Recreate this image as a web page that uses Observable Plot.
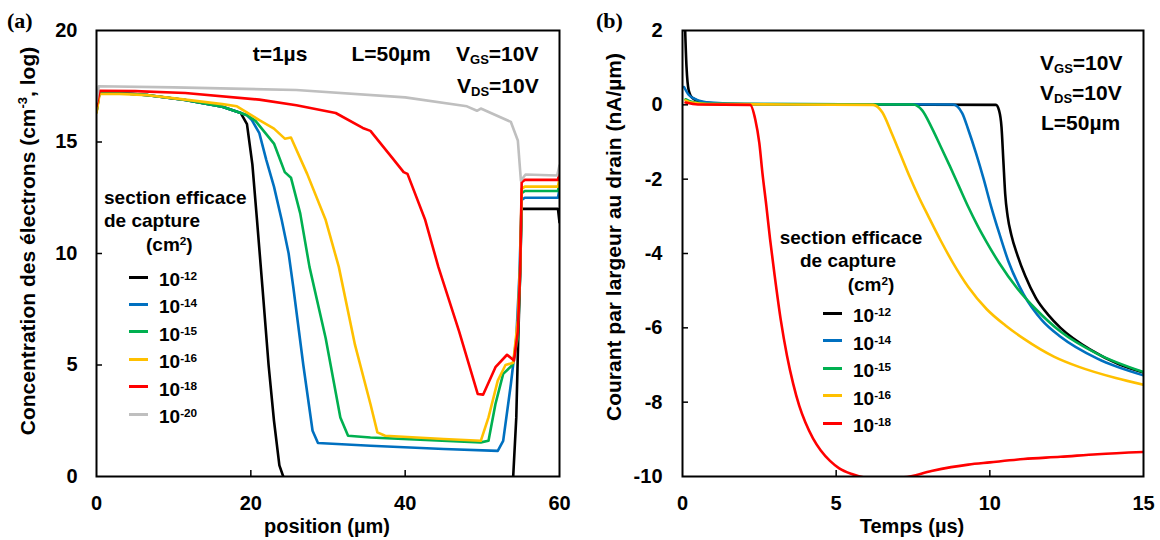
<!DOCTYPE html>
<html>
<head>
<meta charset="utf-8">
<script src="https://cdn.jsdelivr.net/npm/d3@7"></script>
<script src="https://cdn.jsdelivr.net/npm/@observablehq/plot@0.6"></script>
<style>
  body { margin: 0; background: #fff; }
  #wrap { position: relative; width: 1160px; height: 540px; background: #fff;
          font-family: "Liberation Sans", Arial, sans-serif; font-weight: bold; color: #000; }
  .abs { position: absolute; white-space: nowrap; line-height: 1; }
  sup { font-size: 0.62em; vertical-align: 0.55em; line-height: 0; }
  sub { font-size: 0.62em; vertical-align: -0.25em; line-height: 0; }
  .lg { position: absolute; width: 19px; height: 3px; }
</style>
</head>
<body>
<div id="wrap">
  <div id="pa" style="position:absolute;left:0;top:0"></div>
  <div id="pb" style="position:absolute;left:580px;top:0"></div>
</div>
<script>
// ---------- Panel (a): electron concentration (log cm^-3) vs position (µm), t = 1 µs ----------
const seriesNamesA = ["1e-12", "1e-14", "1e-15", "1e-16", "1e-18", "1e-20"];
const colorsA = ["#000000", "#0070C0", "#00B050", "#FFC000", "#FF0000", "#BFBFBF"];

const posA12 = [0, 0.4, 3, 6.7, 11.5, 16.3, 18.7, 19.5, 20.2, 20.8, 21.5, 22.3, 23, 23.7, 24.2, 24.5, 53.9, 54, 54.4, 54.6, 54.9, 55.1, 55.5, 59.8, 60];
const valA12 = [16.35, 17.25, 17.2, 17.1, 16.88, 16.58, 16.3, 15.8, 14, 11.5, 8.5, 5, 2.5, 0.5, 0, -3, -3, 0, 2.65, 5.5, 9.2, 12.0, 12.0, 12.0, 11.4];

const posA14 = [0, 0.4, 3, 6.7, 11.5, 16.3, 18.7, 19.5, 20.1, 21.1, 22, 23, 24, 24.9, 25.5, 26.8, 28, 28.7, 35.5, 45, 52, 52.7, 53.7, 54.4, 54.8, 55.1, 55.5, 59.8, 60];
const valA14 = [16.35, 17.25, 17.2, 17.1, 16.88, 16.58, 16.3, 16.2, 16.0, 15.4, 14.2, 13, 11.5, 10, 8.5, 5.0, 2.05, 1.5, 1.38, 1.23, 1.15, 1.6, 4.15, 6.2, 9, 12.4, 12.5, 12.5, 12.9];

const posA15 = [0, 0.4, 3, 6.7, 11.5, 16.3, 18.7, 19.5, 20.6, 23, 24.4, 25.2, 26.4, 27.6, 29.7, 31.6, 32.6, 35.5, 49.8, 50.8, 51.7, 52.7, 53.9, 54.6, 54.9, 55.1, 55.5, 59.8, 60];
const valA15 = [16.35, 17.25, 17.2, 17.1, 16.88, 16.58, 16.3, 16.2, 15.95, 14.93, 13.65, 13.4, 11.8, 9.4, 6.2, 2.65, 1.83, 1.75, 1.53, 1.6, 3.25, 4.6, 5.0, 6.2, 9, 12.7, 12.8, 12.8, 13.2];

const posA16 = [0, 0.4, 3, 6.7, 11.5, 16.3, 18.2, 21.1, 23, 24.4, 25.2, 27.3, 29.7, 31.4, 33.5, 35.5, 36.4, 37.4, 45, 49.8, 50.8, 52, 53, 54, 54.6, 54.9, 55.1, 55.5, 59.8, 60];
const valA16 = [16.3, 17.15, 17.15, 17.1, 16.9, 16.7, 16.6, 15.98, 15.6, 15.15, 15.2, 13.57, 11.5, 9.4, 5.9, 3.25, 1.98, 1.83, 1.68, 1.6, 2.65, 4.3, 5.0, 5.1, 7, 9.5, 12.9, 13.0, 13.0, 13.4];

const posA18 = [0, 0.4, 5, 11.5, 21.1, 25.9, 31, 34.5, 35.5, 38.3, 39.8, 40.3, 42.6, 44.3, 47, 49.4, 50.1, 51.7, 53.2, 54.1, 54.6, 54.9, 55.1, 55.5, 59.8, 60];
const valA18 = [16.6, 17.3, 17.28, 17.2, 16.9, 16.65, 16.3, 15.63, 15.5, 14.3, 13.65, 13.57, 11.5, 9.4, 6.5, 3.7, 3.67, 4.9, 5.46, 5.2, 6.5, 9.2, 13.2, 13.3, 13.3, 13.7];

const posA20 = [0, 0.3, 10, 25.9, 40, 48, 49.3, 49.8, 53.7, 54.6, 55.0, 55.6, 59.7, 60];
const valA20 = [16.8, 17.5, 17.45, 17.33, 17.0, 16.6, 16.4, 16.5, 15.9, 15.07, 13.27, 13.54, 13.5, 13.95];

const ticksXA = [0, 20, 40, 60];
const ticksYA = [0, 5, 10, 15, 20];
const innerTicksXA = [20, 40];
const innerTicksYA = [5, 10, 15];

// ---------- Panel (b): drain current per width (nA/µm) vs time (µs) ----------
const seriesNamesB = ["1e-12", "1e-14", "1e-15", "1e-16", "1e-18"];
const colorsB = ["#000000", "#0070C0", "#00B050", "#FFC000", "#FF0000"];

const tB12 = [0.05, 0.13, 0.2, 0.33, 0.7, 1.5, 10.2, 10.3, 10.38, 10.44, 10.5, 10.58, 10.7, 10.9, 11.15, 11.5, 11.9, 12.3, 13.3, 14.2, 15];
const iB12 = [3, 1.03, 0.4, 0.18, 0.06, 0.02, 0.0, -0.15, -0.6, -1.5, -2.4, -3.0, -3.5, -4.05, -4.6, -5.2, -5.65, -6.0, -6.6, -6.98, -7.2];

const tB14 = [0.05, 0.2, 0.45, 0.9, 2, 8.8, 9.1, 9.3, 9.55, 9.8, 10.04, 10.3, 10.6, 11.1, 11.7, 12.3, 13.5, 15];
const iB14 = [0.48, 0.27, 0.14, 0.06, 0.02, 0.01, -0.22, -0.67, -1.3, -2.0, -2.73, -3.44, -4.2, -5.1, -5.8, -6.24, -6.83, -7.28];

const tB15 = [0.1, 0.3, 0.8, 7.5, 7.8, 8.1, 8.4, 8.7, 9.0, 9.3, 9.6, 9.9, 10.3, 10.9, 11.5, 12.3, 13.5, 15];
const iB15 = [0.15, 0.08, 0.03, 0.01, -0.15, -0.6, -1.12, -1.65, -2.2, -2.75, -3.25, -3.7, -4.25, -4.95, -5.5, -6.1, -6.7, -7.19];

const tB16 = [0.1, 0.3, 0.8, 6.2, 6.5, 6.8, 7.1, 7.4, 7.7, 8.0, 8.4, 8.8, 9.3, 9.9, 10.5, 11.1, 12.1, 12.9, 14.1, 15];
const iB16 = [0.12, 0.06, 0.02, 0.0, -0.2, -0.75, -1.35, -1.95, -2.5, -3.0, -3.65, -4.25, -4.9, -5.5, -5.93, -6.29, -6.78, -7.05, -7.35, -7.53];

const tB18 = [0.1, 0.5, 2.2, 2.37, 2.5, 2.6, 2.73, 2.85, 3.0, 3.2, 3.4, 3.6, 3.8, 4.0, 4.25, 4.5, 4.8, 5.1, 5.5, 6.0, 7.2, 8.1, 9.3, 10, 11.1, 12.3, 13.5, 15];
const iB18 = [0.06, 0.01, 0.0, -0.4, -1.03, -1.83, -2.73, -3.62, -4.6, -5.8, -6.75, -7.5, -8.1, -8.55, -8.98, -9.3, -9.58, -9.78, -9.93, -10.03, -10.02, -9.85, -9.68, -9.62, -9.53, -9.47, -9.4, -9.34];

const ticksXB = [0, 5, 10, 15];
const ticksYB = [2, 0, -2, -4, -6, -8, -10];
const innerTicksXB = [5, 10];
const innerTicksYB = [0, -2, -4, -6, -8];

const legendLabelsA = ["-12", "-14", "-15", "-16", "-18", "-20"];
const legendLabelsB = ["-12", "-14", "-15", "-16", "-18"];

// ---------- build tables ----------
function table(names, xsList, ysList) {
  const rows = [];
  names.forEach((n, k) => xsList[k].forEach((x, i) => rows.push({s: n, x, y: ysList[k][i]})));
  return rows;
}
const dataA = table(seriesNamesA,
  [posA12, posA14, posA15, posA16, posA18, posA20],
  [valA12, valA14, valA15, valA16, valA18, valA20]);
const dataB = table(seriesNamesB,
  [tB12, tB14, tB15, tB16, tB18],
  [iB12, iB14, iB15, iB16, iB18]);

const baseStyle = {fontFamily: "'Liberation Sans', Arial, sans-serif", fontSize: "20px", fontWeight: "bold", background: "transparent", color: "#000", overflow: "visible"};
const fmt = d => String(d);

const plotA = Plot.plot({
  width: 580, height: 540,
  marginLeft: 96, marginRight: 21, marginTop: 30, marginBottom: 64,
  style: baseStyle,
  x: {domain: [0, 60]},
  y: {domain: [0, 20]},
  color: {domain: seriesNamesA, range: colorsA},
  marks: [
    Plot.line(dataA, {x: "x", y: "y", z: "s", stroke: "s", strokeWidth: 2.6, clip: true}),
    Plot.ruleX(innerTicksXA, {stroke: "black", strokeWidth: 1.5, insetTop: 440}),
    Plot.ruleY(innerTicksYA, {stroke: "black", strokeWidth: 1.5, insetRight: 457}),
    Plot.frame({stroke: "black", strokeWidth: 2}),
    Plot.axisX({ticks: ticksXA, tickSize: 0, tickPadding: 19, tickFormat: fmt, label: null}),
    Plot.axisY({ticks: ticksYA, tickSize: 0, tickPadding: 19, tickFormat: fmt, label: null})
  ]
});
document.getElementById("pa").appendChild(plotA);

const plotB = Plot.plot({
  width: 580, height: 540,
  marginLeft: 102, marginRight: 17, marginTop: 30, marginBottom: 64,
  style: baseStyle,
  x: {domain: [0, 15]},
  y: {domain: [-10, 2]},
  color: {domain: seriesNamesB, range: colorsB},
  marks: [
    Plot.line(dataB, {x: "x", y: "y", z: "s", stroke: "s", strokeWidth: 2.6, curve: "monotone-x", clip: true}),
    Plot.ruleX(innerTicksXB, {stroke: "black", strokeWidth: 1.5, insetTop: 440}),
    Plot.ruleY(innerTicksYB, {stroke: "black", strokeWidth: 1.5, insetRight: 455}),
    Plot.frame({stroke: "black", strokeWidth: 2}),
    Plot.axisX({ticks: ticksXB, tickSize: 0, tickPadding: 19, tickFormat: fmt, label: null}),
    Plot.axisY({ticks: ticksYB, tickSize: 0, tickPadding: 20, tickFormat: fmt, label: null})
  ]
});
document.getElementById("pb").appendChild(plotB);

// ---------- text overlays ----------
const wrap = document.getElementById("wrap");
function addText(html, left, top, size, extra = "") {
  const d = document.createElement("div");
  d.className = "abs";
  d.style.cssText = `left:${left}px;top:${top}px;font-size:${size}px;${extra}`;
  d.innerHTML = html;
  wrap.appendChild(d);
  return d;
}
// panel letters
addText("(a)", 7, 10, 22, "font-family:'Liberation Serif',serif;");
addText("(b)", 596, 10, 22, "font-family:'Liberation Serif',serif;");
// axis titles
addText("Concentration des électrons (cm<sup>-3</sup>, log)", 27, 241, 21, "transform:translate(-50%,-50%) rotate(-90deg);");
addText("Courant par largeur au drain (nA/µm)", 613, 237, 21, "transform:translate(-50%,-50%) rotate(-90deg);");
addText("position (µm)", 327, 526, 20, "transform:translate(-50%,-50%);");
addText("Temps (µs)", 912, 526, 20, "transform:translate(-50%,-50%);");
// panel (a) annotations
addText("t=1µs", 280, 53, 21, "transform:translate(-50%,-50%);");
addText("L=50µm", 391, 53, 21, "transform:translate(-50%,-50%);");
addText("V<sub>GS</sub>=10V", 456, 43, 21);
addText("V<sub>DS</sub>=10V", 457, 75, 21);
// panel (b) annotations
addText("V<sub>GS</sub>=10V", 1040, 52, 21);
addText("V<sub>DS</sub>=10V", 1040, 82, 21);
addText("L=50µm", 1041, 112, 21);

// legends
function legend(title1X, titleY, capX, cmX, lineX, rowY0, step, labels, colors, centerTitle) {
  const tr = centerTitle ? "transform:translateX(-50%);" : "";
  addText("section efficace", title1X, titleY, 19, tr);
  addText("de capture", capX, titleY + 23, 19, tr);
  addText("(cm<sup>2</sup>)", cmX, titleY + 47, 19, tr);
  labels.forEach((lab, i) => {
    const y = rowY0 + i * step;
    const l = document.createElement("div");
    l.className = "lg";
    l.style.cssText = `left:${lineX}px;top:${y - 1.5}px;background:${colors[i]};`;
    wrap.appendChild(l);
    addText(`10<sup>${lab}</sup>`, lineX + 30, y - 7, 19);
  });
}
legend(104, 188, 104, 146, 129, 277, 27.4, legendLabelsA, colorsA, false);
legend(851, 228, 848, 871, 823, 313, 27.5, legendLabelsB, colorsB, true);
</script>
</body>
</html>
